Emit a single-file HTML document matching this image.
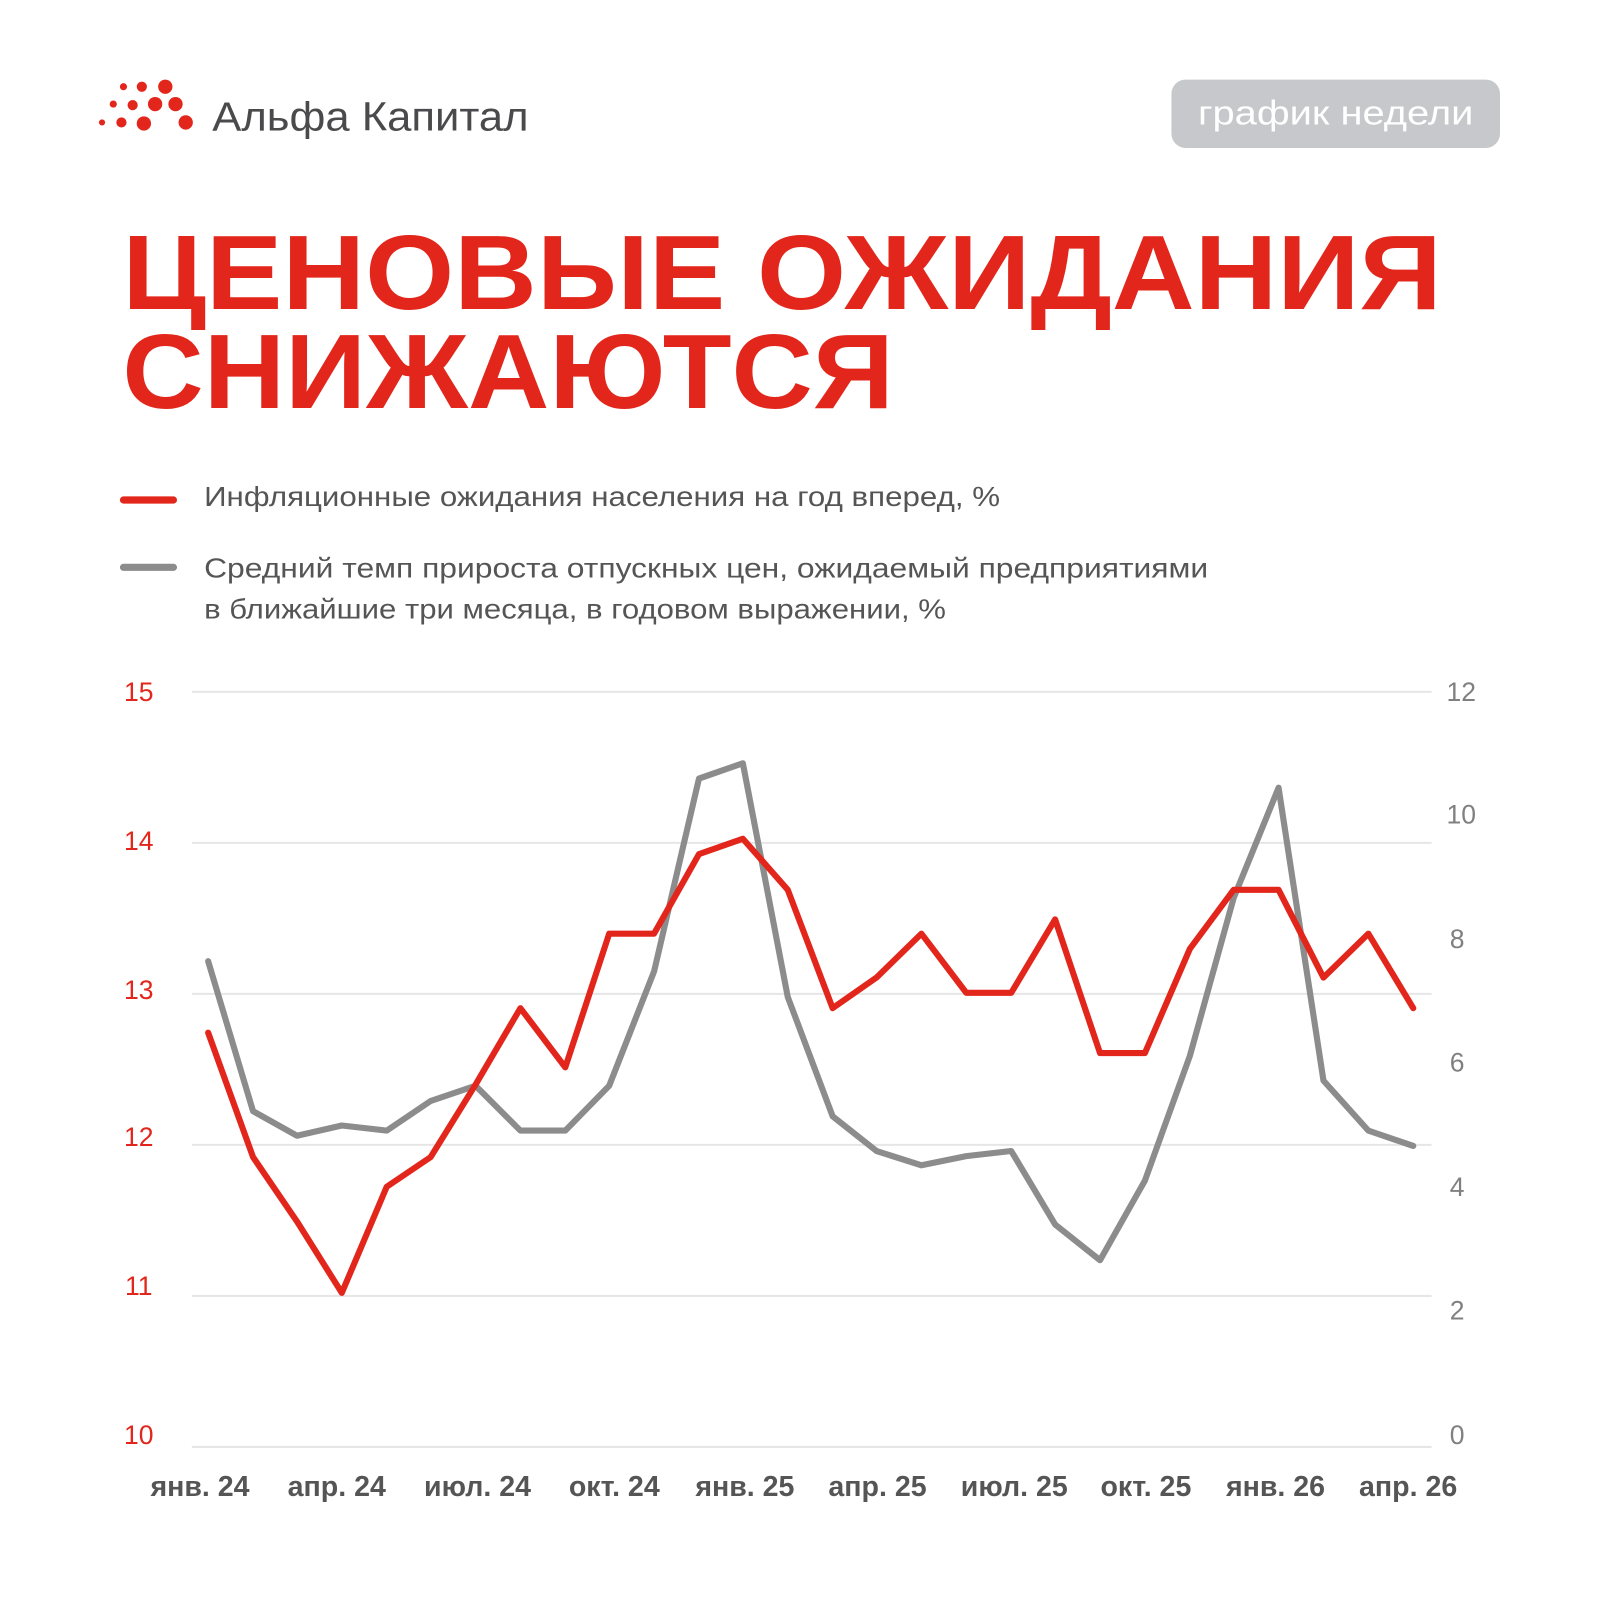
<!DOCTYPE html>
<html><head><meta charset="utf-8"><style>html,body{margin:0;padding:0;background:#fff}svg{display:block}</style></head>
<body>
<svg width="1600" height="1600" viewBox="0 0 1568 1568" xmlns="http://www.w3.org/2000/svg" font-family="Liberation Sans, sans-serif">
<rect width="1568" height="1568" fill="#fff"/>
<g fill="#e3261b">
<circle cx="121" cy="85" r="3.5"/><circle cx="139" cy="85" r="5"/><circle cx="162" cy="85" r="7"/>
<circle cx="111" cy="102" r="3.5"/><circle cx="130" cy="103" r="5"/><circle cx="152" cy="102" r="7"/><circle cx="172" cy="102" r="7"/>
<circle cx="100" cy="120" r="3"/><circle cx="119" cy="120" r="5"/><circle cx="141" cy="121" r="7"/><circle cx="182" cy="120" r="7"/>
</g>
<text x="208" y="128" font-size="40" fill="#4a4a4c" textLength="310" lengthAdjust="spacingAndGlyphs">Альфа Капитал</text>
<rect x="1148" y="78" width="322" height="67" rx="14" fill="#c6c8cb"/>
<text x="1309" y="122" font-size="34" fill="#fff" text-anchor="middle" textLength="270" lengthAdjust="spacingAndGlyphs">график недели</text>
<text x="120" y="303" font-size="104" font-weight="bold" fill="#e3261b" textLength="1293" lengthAdjust="spacingAndGlyphs">ЦЕНОВЫЕ ОЖИДАНИЯ</text>
<text x="120" y="400" font-size="104" font-weight="bold" fill="#e3261b" textLength="756" lengthAdjust="spacingAndGlyphs">СНИЖАЮТСЯ</text>
<line x1="121" y1="490" x2="170" y2="490" stroke="#e3261b" stroke-width="7" stroke-linecap="round"/>
<line x1="121" y1="556" x2="170" y2="556" stroke="#8c8c8c" stroke-width="7" stroke-linecap="round"/>
<g font-size="27" fill="#555">
<text x="200" y="496" textLength="780" lengthAdjust="spacingAndGlyphs">Инфляционные ожидания населения на год вперед, %</text>
<text x="200" y="566" textLength="984" lengthAdjust="spacingAndGlyphs">Средний темп прироста отпускных цен, ожидаемый предприятиями</text>
<text x="200" y="606" textLength="727" lengthAdjust="spacingAndGlyphs">в ближайшие три месяца, в годовом выражении, %</text>
</g>
<g stroke="#e6e6e6" stroke-width="2">
<line x1="188" y1="678" x2="1403" y2="678"/><line x1="188" y1="826" x2="1403" y2="826"/>
<line x1="188" y1="974" x2="1403" y2="974"/><line x1="188" y1="1122" x2="1403" y2="1122"/>
<line x1="188" y1="1270" x2="1403" y2="1270"/><line x1="188" y1="1418" x2="1403" y2="1418"/>
</g>
<g font-size="26" fill="#e3261b" text-anchor="middle">
<text x="136" y="687">15</text><text x="136" y="833">14</text><text x="136" y="979">13</text>
<text x="136" y="1123">12</text><text x="136" y="1269">11</text><text x="136" y="1415">10</text>
</g>
<g font-size="26" fill="#808080" text-anchor="middle">
<text x="1432" y="687">12</text><text x="1432" y="807">10</text><text x="1428" y="929">8</text>
<text x="1428" y="1050">6</text><text x="1428" y="1172">4</text><text x="1428" y="1293">2</text><text x="1428" y="1415">0</text>
</g>
<g font-size="28" font-weight="bold" fill="#555" text-anchor="middle">
<text x="196" y="1466">янв. 24</text><text x="330" y="1466">апр. 24</text><text x="468" y="1466">июл. 24</text>
<text x="602" y="1466">окт. 24</text><text x="730" y="1466">янв. 25</text><text x="860" y="1466">апр. 25</text>
<text x="994" y="1466">июл. 25</text><text x="1123" y="1466">окт. 25</text><text x="1250" y="1466">янв. 26</text>
<text x="1380" y="1466">апр. 26</text>
</g>
<polyline fill="none" stroke="#8c8c8c" stroke-width="6" stroke-linejoin="round" stroke-linecap="round" points="204,942 248,1089 291,1113 335,1103 379,1108 422,1079 466,1064 510,1108 554,1108 597,1064 641,952 685,763 728,748 772,977 816,1094 859,1128 903,1142 947,1133 991,1128 1034,1200 1078,1235 1122,1157 1166,1035 1209,880 1253,772 1297,1059 1341,1108 1385,1123"/>
<polyline fill="none" stroke="#e3261b" stroke-width="6" stroke-linejoin="round" stroke-linecap="round" points="204,1012 248,1134 291,1197 335,1267 379,1163 422,1134 466,1063 510,988 554,1046 597,915 641,915 685,837 728,822 772,872 816,988 859,958 903,915 947,973 991,973 1034,901 1078,1032 1122,1032 1166,930 1209,872 1253,872 1297,958 1341,915 1385,988"/>
</svg>
</body></html>
